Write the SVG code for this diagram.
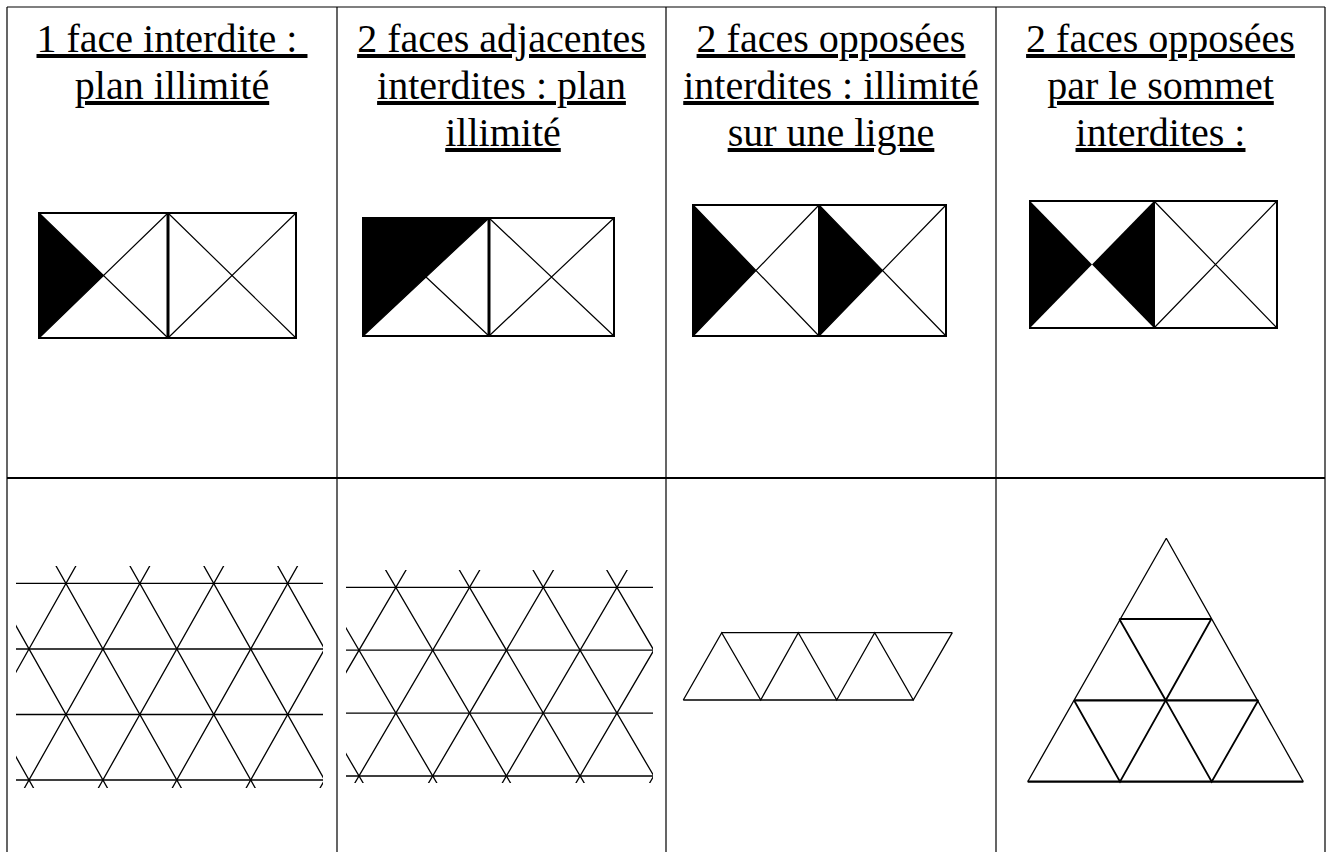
<svg xmlns="http://www.w3.org/2000/svg" width="1330" height="852" viewBox="0 0 1330 852">
<style>
.grid{stroke:#000;stroke-width:1.2;fill:none}
.t{font-size:40px;fill:#000;text-anchor:middle;text-decoration:underline}
.frame{stroke:#000;stroke-width:2;fill:none}
.mid{stroke:#000;stroke-width:3}
.diag{stroke:#000;stroke-width:1.2;fill:none}
.blk{fill:#000;stroke:none}
.lat{stroke:#000;stroke-width:1.3;fill:none}
.hz{stroke:#000;stroke-width:2.2;fill:none}
</style>
<defs>
<clipPath id="c1"><rect x="16" y="566" width="307" height="222"/></clipPath>
<clipPath id="c2"><rect x="346" y="570" width="307" height="213"/></clipPath>
</defs>
<rect width="1330" height="852" fill="#fff"/>
<g id="table">
<path class="grid" d="M7,7H1325M7,7V852M337,7V852M666,7V852M996,7V852M1325,7V852"/>
<path stroke="#000" stroke-width="1.8" d="M7,478H1325"/>
</g>
<g id="headers" font-family="'Liberation Serif', 'Times New Roman', Tinos, 'DejaVu Serif', serif">
<text class="t" x="172" y="52" xml:space="preserve">1 face interdite : </text>
<text class="t" x="172" y="99">plan illimité</text>
<text class="t" x="501.5" y="52">2 faces adjacentes</text>
<text class="t" x="501.5" y="99">interdites : plan</text>
<text class="t" x="503" y="146">illimité</text>
<text class="t" x="831" y="52">2 faces opposées</text>
<text class="t" x="831" y="99">interdites : illimité</text>
<text class="t" x="831" y="146">sur une ligne</text>
<text class="t" x="1160.5" y="52">2 faces opposées</text>
<text class="t" x="1160.5" y="99">par le sommet</text>
<text class="t" x="1160.5" y="146">interdites :</text>
</g>
<g id="fig1">
<polygon class="blk" points="39,213 103.5,275.5 39,338"/>
<path class="diag" d="M39,213L168,338M39,338L168,213M168,213L296,338M168,338L296,213"/>
<rect class="frame" x="39" y="213" width="257" height="125"/>
<path class="mid" d="M168,212V339"/>
</g>
<g id="fig2">
<polygon class="blk" points="363,218 489,218 363,336"/>
<path class="diag" d="M363,336L489,218M426,277L489,336M489,218L614,336M489,336L614,218"/>
<rect class="frame" x="363" y="218" width="251" height="118"/>
<path class="mid" d="M489,217V337"/>
</g>
<g id="fig3">
<polygon class="blk" points="693,205 756,270.5 693,336"/>
<polygon class="blk" points="819,205 882.5,270.5 819,336"/>
<path class="diag" d="M693,205L819,336M693,336L819,205M819,205L946,336M819,336L946,205"/>
<rect class="frame" x="693" y="205" width="253" height="131"/>
<path stroke="#000" stroke-width="2" d="M819,204V337"/>
</g>
<g id="fig4">
<polygon class="blk" points="1030,201 1092,264.5 1030,328"/>
<polygon class="blk" points="1154,201 1092,264.5 1154,328"/>
<path class="diag" d="M1154,201L1277,328M1154,328L1277,201"/>
<rect class="frame" x="1030" y="201" width="247" height="127"/>
<path stroke="#000" stroke-width="2" d="M1154,200V329"/>
</g>
<g id="lattice1" clip-path="url(#c1)">
<path class="lat" d="M16,583.3H323M16,649H323M16,714.5H323M16,780H323"/>
<path class="lat" d="M79.2,560L-56.2,800M153.1,560L17.7,800M227,560L91.6,800M300.9,560L165.5,800M374.8,560L239.4,800M448.7,560L313.3,800"/>
<path class="lat" d="M-95.1,560L40.3,800M-21.2,560L114.2,800M52.7,560L188.1,800M126.6,560L262,800M200.5,560L335.9,800M274.4,560L409.8,800"/>
</g>
<g id="lattice2" clip-path="url(#c2)">
<path class="lat" d="M346,587.3H653M346,650.2H653M346,713.1H653M346,776H653"/>
<path class="lat" d="M411.9,560L271.2,800M485.6,560L344.9,800M559.3,560L418.6,800M633,560L492.3,800M706.7,560L566,800M780.4,560L639.7,800"/>
<path class="lat" d="M232.4,560L373.1,800M306.1,560L446.8,800M379.8,560L520.5,800M453.5,560L594.2,800M527.2,560L667.9,800M600.9,560L741.6,800"/>
</g>
<g id="strip3">
<path class="lat" d="M721.7,632.7H952.3M683.3,700H913.3"/>
<polyline class="lat" points="683.3,700 721.7,632.7 760.7,700 798.3,632.7 836.7,700 874.7,632.7 913.3,700 952.3,632.7"/>
</g>
<g id="triangle4">
<path class="lat" d="M1166.3,538.3L1027.7,781.7M1166.3,538.3L1303.3,781.7"/>
<path class="hz" d="M1119.3,619H1211.3M1074,700.3H1258.3M1027.7,781.7H1303.3"/>
<path class="hz" style="stroke-width:1.8" d="M1119.3,619L1165.7,700.3L1211.3,619M1074,700.3L1120,781.7L1165.7,700.3L1211.7,781.7L1258.3,700.3"/>
</g>
</svg>
